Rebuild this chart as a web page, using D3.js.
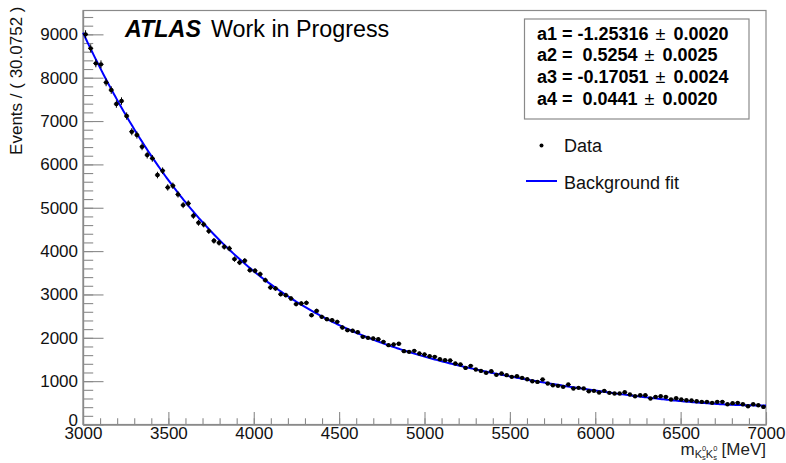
<!DOCTYPE html>
<html>
<head>
<meta charset="utf-8">
<script src="https://cdn.jsdelivr.net/npm/d3@7"></script>
<style>
  html, body { margin: 0; padding: 0; background: #fff; }
  svg { display: block; font-family: "Liberation Sans", Arial, Helvetica, sans-serif; }
  text { white-space: pre; }
</style>
</head>
<body>
<svg id="chart" width="786" height="463"></svg>
<script>
// Binned K0s K0s invariant mass spectrum: 133 bins of 30.0752 MeV from 3000 to 7000 MeV
const massMin = 3000;
const massMax = 7000;
const nBins = 133;
const counts = [
  9000, 8677, 8331, 8308, 7892, 7715, 7392, 7461, 7115, 6754,
  6677, 6407, 6215, 6139, 5754, 5854, 5469, 5507, 5308, 5061,
  5100, 4814, 4653,
  4615, 4461, 4237, 4191, 4098, 4061, 3815, 3738, 3776, 3561,
  3546, 3469, 3330, 3162, 3139, 3007, 2984, 2908, 2777, 2792,
  2806, 2522, 2621, 2483, 2430, 2407, 2368, 2239, 2176, 2161,
  2130,
  2022, 1999, 1984, 1969, 1907, 1830, 1846, 1861, 1692, 1676,
  1699, 1638, 1615, 1576, 1561, 1507, 1484, 1477, 1408, 1385,
  1306, 1353, 1269, 1237, 1191, 1230, 1145, 1177, 1138, 1099,
  1115, 1076, 1045, 999, 983, 1038, 946, 907,
  891, 868, 923, 831, 845, 831, 768, 776, 738, 776,
  730, 715, 715, 745, 692, 653, 676, 676, 600, 637,
  653, 637, 577, 607, 577, 561, 554, 538, 522, 522,
  499, 522, 522, 468, 492, 499, 468, 422, 468, 445,
  406
];

// Chebychev background fit parameters
const paramNames = ["a1", "a2", "a3", "a4"];
const paramValues = [-1.25316, 0.5254, -0.17051, 0.0441];
const paramValueText = ["-1.25316", " 0.5254", "-0.17051", " 0.0441"];
const paramErrorText = ["0.0020", "0.0025", "0.0024", "0.0020"];

// Axis ticks
const yMajorTicks = d3.range(0, 9001, 1000);
const yMinorTicks = d3.range(0, 9501, 200);
const xMajorTicks = d3.range(3000, 7001, 500);
const xMinorTicks = d3.range(3000, 7001, 100);
const yMax = 9550;

const legendLabels = ["Data", "Background fit"];

const svg = d3.select("#chart");
const frame = { left: 83, right: 766, top: 10.5, bottom: 424.5 };
const frameColor = "#8a8a8a";
const fontFamily = '"Liberation Sans", Arial, Helvetica, sans-serif';

const x = d3.scaleLinear().domain([massMin, massMax]).range([frame.left, frame.right]);
const y = d3.scaleLinear().domain([0, yMax]).range([frame.bottom, frame.top]);

const binWidth = (massMax - massMin) / nBins;
const bins = counts.map((c, i) => ({
  lo: massMin + i * binWidth,
  hi: massMin + (i + 1) * binWidth,
  mid: massMin + (i + 0.5) * binWidth,
  n: c
}));

// Chebychev polynomial 1 + sum a_k T_k(u), u mapped onto [-1, 1]
function cheb(m) {
  const u = (2 * m - massMin - massMax) / (massMax - massMin);
  let tPrev = 1, t = u, sum = 1 + paramValues[0] * u;
  for (let k = 1; k < paramValues.length; k++) {
    const tNext = 2 * u * t - tPrev;
    tPrev = t; t = tNext;
    sum += paramValues[k] * t;
  }
  return sum;
}
// normalise the pdf to the number of data events
const norm = d3.sum(bins, b => b.n) / d3.sum(bins, b => cheb(b.mid));
const curve = d3.range(0, 401).map(i => {
  const m = massMin + (massMax - massMin) * i / 400;
  return [m, norm * cheb(m)];
});

// Frame
svg.append("rect")
  .attr("x", frame.left).attr("y", frame.top)
  .attr("width", frame.right - frame.left).attr("height", frame.bottom - frame.top)
  .attr("fill", "none").attr("stroke", frameColor).attr("stroke-width", 1.2);

// Y axis
const yAxisMinor = svg.append("g")
  .attr("transform", `translate(${frame.left},0)`)
  .call(d3.axisLeft(y).tickValues(yMinorTicks).tickSize(-10.2).tickSizeOuter(0).tickFormat(""));
const yAxis = svg.append("g")
  .attr("transform", `translate(${frame.left},0)`)
  .call(d3.axisLeft(y).tickValues(yMajorTicks).tickSize(-20.5).tickSizeOuter(0).tickPadding(5).tickFormat(d3.format("d")));

// X axis
const xAxisMinor = svg.append("g")
  .attr("transform", `translate(0,${frame.bottom})`)
  .call(d3.axisBottom(x).tickValues(xMinorTicks).tickSize(-6.2).tickSizeOuter(0).tickFormat(""));
const xAxis = svg.append("g")
  .attr("transform", `translate(0,${frame.bottom})`)
  .call(d3.axisBottom(x).tickValues(xMajorTicks).tickSize(-12.4).tickSizeOuter(0).tickPadding(2).tickFormat(d3.format("d")));

[yAxisMinor, yAxis, xAxisMinor, xAxis].forEach(g => {
  g.select(".domain").attr("stroke", frameColor).attr("stroke-width", 1.2);
  g.selectAll(".tick line").attr("stroke", frameColor).attr("stroke-width", 1.1);
  g.selectAll(".tick text").attr("fill", "#111").attr("font-size", 17).attr("font-family", fontFamily);
});
// the zero label sits just above the corner, clear of the first mass label
yAxis.selectAll(".tick text").filter(d => d === 0).attr("dy", "0.05em");

// Axis titles
svg.append("text")
  .attr("transform", `translate(22,${frame.top - 4}) rotate(-90)`)
  .attr("text-anchor", "end")
  .attr("font-size", 17).attr("fill", "#111")
  .text("Events / ( 30.0752 )");

// m with K0s K0s subscript: superscript 0 stacked above subscript s
const xTitle = svg.append("text")
  .attr("x", frame.right).attr("y", 455)
  .attr("text-anchor", "end")
  .attr("font-size", 17).attr("fill", "#222");
xTitle.append("tspan").text("m");
xTitle.append("tspan").attr("font-size", 11).attr("dy", 2.5).text("K");
xTitle.append("tspan").attr("font-size", 7.5).attr("dy", -6.5).text("0");
xTitle.append("tspan").attr("font-size", 7.5).attr("dx", -4.2).attr("dy", 9).text("s");
xTitle.append("tspan").attr("font-size", 11).attr("dy", -2.5).text("K");
xTitle.append("tspan").attr("font-size", 7.5).attr("dy", -6.5).text("0");
xTitle.append("tspan").attr("font-size", 7.5).attr("dx", -4.2).attr("dy", 9).text("s");
xTitle.append("tspan").attr("dy", -5).text(" [MeV]");

// Fit curve
const line = d3.line().x(d => x(d[0])).y(d => y(d[1]));
svg.append("path")
  .datum(curve)
  .attr("d", line)
  .attr("fill", "none").attr("stroke", "#0000ff").attr("stroke-width", 2);

// Data points with statistical error bars
const pts = svg.append("g").attr("class", "data");
pts.selectAll("line.xerr").data(bins).join("line")
  .attr("class", "xerr")
  .attr("x1", d => x(d.lo)).attr("x2", d => x(d.hi))
  .attr("y1", d => y(d.n)).attr("y2", d => y(d.n))
  .attr("stroke", "#000").attr("stroke-width", 1);
pts.selectAll("line.yerr").data(bins).join("line")
  .attr("class", "yerr")
  .attr("x1", d => x(d.mid)).attr("x2", d => x(d.mid))
  .attr("y1", d => y(d.n + Math.sqrt(d.n))).attr("y2", d => y(d.n - Math.sqrt(d.n)))
  .attr("stroke", "#000").attr("stroke-width", 1);
pts.selectAll("circle").data(bins).join("circle")
  .attr("cx", d => x(d.mid)).attr("cy", d => y(d.n))
  .attr("r", 2.2).attr("fill", "#000");

// ATLAS label
svg.append("text")
  .attr("x", 125).attr("y", 37)
  .attr("font-size", 23.3).attr("font-weight", "bold").attr("font-style", "italic").attr("fill", "#000")
  .text("ATLAS");
svg.append("text")
  .attr("x", 211).attr("y", 37)
  .attr("font-size", 23.3).attr("fill", "#000")
  .text("Work in Progress");

// Fit parameter box
svg.append("rect")
  .attr("x", 524.5).attr("y", 19).attr("width", 224.5).attr("height", 100)
  .attr("fill", "#fff").attr("stroke", frameColor).attr("stroke-width", 1.2);
paramNames.forEach((name, i) => {
  const t = svg.append("text")
    .attr("x", 537).attr("y", 39.5 + i * 21.8)
    .attr("font-size", 18).attr("fill", "#000");
  t.append("tspan").attr("font-weight", "bold").text(`${name} = ${paramValueText[i]} `);
  t.append("tspan").attr("font-weight", "normal").attr("dx", 2).text("\u00b1");
  t.append("tspan").attr("font-weight", "bold").attr("dx", 3).text(` ${paramErrorText[i]}`);
});

// Legend
svg.append("circle").attr("cx", 541.5).attr("cy", 145.5).attr("r", 2).attr("fill", "#000");
svg.append("text").attr("x", 564).attr("y", 152).attr("font-size", 18).attr("fill", "#111").text(legendLabels[0]);
svg.append("line").attr("x1", 526).attr("x2", 557).attr("y1", 181).attr("y2", 181)
  .attr("stroke", "#0000ff").attr("stroke-width", 2);
svg.append("text").attr("x", 564).attr("y", 188.5).attr("font-size", 18).attr("fill", "#111").text(legendLabels[1]);
</script>
</body>
</html>
